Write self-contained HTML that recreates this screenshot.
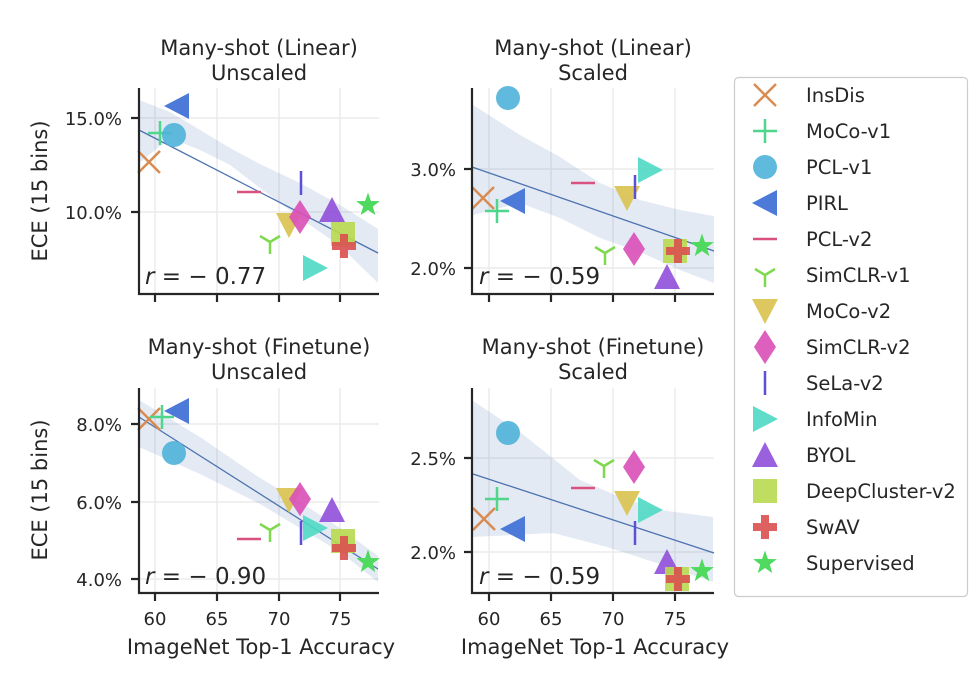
<!DOCTYPE html>
<html><head><meta charset="utf-8"><style>
body{margin:0;background:#fff}
svg{display:block;font-family:"DejaVu Sans","Liberation Sans",sans-serif;fill:#262626}
.t{font-size:21px;text-anchor:middle}
.tk{font-size:18px}
.g{stroke:#ebebeb;stroke-width:1.5}
.sp{stroke:#262626;stroke-width:2.2;fill:none}
.band{fill:#4c72b0;fill-opacity:0.15;stroke:none}
.rl{stroke:#4c72b0;stroke-width:1.3}
.r{font-size:23px}
.lg{font-size:19.5px}
</style></head><body>
<svg id="s" width="980" height="682" viewBox="0 0 980 682" xmlns="http://www.w3.org/2000/svg">
<rect x="734.5" y="77.5" width="233" height="519" rx="4" fill="#fff" stroke="#cccccc" stroke-width="1.2"/>
<g class="g">
<line x1="155" y1="88" x2="155" y2="294"/><line x1="217" y1="88" x2="217" y2="294"/><line x1="279" y1="88" x2="279" y2="294"/><line x1="340" y1="88" x2="340" y2="294"/>
<line x1="139" y1="118" x2="379" y2="118"/><line x1="139" y1="212" x2="379" y2="212"/>
<line x1="489" y1="88" x2="489" y2="294"/><line x1="551" y1="88" x2="551" y2="294"/><line x1="613" y1="88" x2="613" y2="294"/><line x1="675" y1="88" x2="675" y2="294"/>
<line x1="472" y1="169" x2="714" y2="169"/><line x1="472" y1="268" x2="714" y2="268"/>
<line x1="155" y1="388" x2="155" y2="593"/><line x1="217" y1="388" x2="217" y2="593"/><line x1="279" y1="388" x2="279" y2="593"/><line x1="340" y1="388" x2="340" y2="593"/>
<line x1="139" y1="424" x2="379" y2="424"/><line x1="139" y1="502" x2="379" y2="502"/><line x1="139" y1="579" x2="379" y2="579"/>
<line x1="489" y1="388" x2="489" y2="593"/><line x1="551" y1="388" x2="551" y2="593"/><line x1="613" y1="388" x2="613" y2="593"/><line x1="675" y1="388" x2="675" y2="593"/>
<line x1="472" y1="458" x2="714" y2="458"/><line x1="472" y1="552" x2="714" y2="552"/>
</g>
<polygon class="band" points="139,100 170,112 200,130 230,148 260,164 300,183 340,205 378,229 378,283 340,246 300,218 260,188 230,165 200,150 170,138 139,163"/>
<polygon class="band" points="473,105 520,135 560,157 600,183 640,200 680,210 714,216 714,283 680,270 640,252 600,238 560,218 520,203 473,215"/>
<polygon class="band" points="139,400 200,437 260,478 300,502 340,528 378,556 378,582 340,552 300,528 260,504 200,474 139,447"/>
<polygon class="band" points="473,401 520,432 580,480 620,497 660,510 713,517 713,582 660,564 607,547 553,533 473,537"/>
<line class="rl" x1="139" y1="130" x2="378" y2="253"/>
<line class="rl" x1="472" y1="167" x2="714" y2="251"/>
<line class="rl" x1="139" y1="417" x2="378" y2="569"/>
<line class="rl" x1="473" y1="474" x2="714" y2="553"/>
<g id="mk"></g>
<g class="sp">
<path d="M139 88V294H379"/><path d="M472 88V294H714"/><path d="M139 388V593H379"/><path d="M472 388V593H714"/>
<path d="M155 294v8M217 294v8M279 294v8M340 294v8M489 294v8M551 294v8M613 294v8M675 294v8"/>
<path d="M155 593v8M217 593v8M279 593v8M340 593v8M489 593v8M551 593v8M613 593v8M675 593v8"/>
<path d="M131 118h8M131 212h8M464 169h8M464 268h8M131 424h8M131 502h8M131 579h8M464 458h8M464 552h8"/>
</g>
<text class="t" x="259" y="55">Many-shot (Linear)</text><text class="t" x="259" y="80">Unscaled</text>
<text class="t" x="593" y="55">Many-shot (Linear)</text><text class="t" x="593" y="80">Scaled</text>
<text class="t" x="259" y="354">Many-shot (Finetune)</text><text class="t" x="259" y="379">Unscaled</text>
<text class="t" x="593" y="354">Many-shot (Finetune)</text><text class="t" x="593" y="379">Scaled</text>
<g class="tk" text-anchor="end">
<text x="122" y="125">15.0%</text><text x="122" y="219">10.0%</text>
<text x="456" y="176">3.0%</text><text x="456" y="275">2.0%</text>
<text x="122" y="431">8.0%</text><text x="122" y="509">6.0%</text><text x="122" y="586">4.0%</text>
<text x="456" y="465">2.5%</text><text x="456" y="559">2.0%</text>
</g>
<g class="tk" text-anchor="middle">
<text x="155" y="625">60</text><text x="217" y="625">65</text><text x="279" y="625">70</text><text x="340" y="625">75</text>
<text x="489" y="625">60</text><text x="551" y="625">65</text><text x="613" y="625">70</text><text x="675" y="625">75</text>
</g>
<text class="t" x="261" y="654">ImageNet Top-1 Accuracy</text>
<text class="t" x="595" y="654">ImageNet Top-1 Accuracy</text>
<text class="t" transform="translate(47,191) rotate(-90)">ECE (15 bins)</text>
<text class="t" transform="translate(47,490) rotate(-90)">ECE (15 bins)</text>
<text class="r" x="145" y="284" xml:space="preserve"><tspan font-style="italic">r</tspan> = − 0.77</text>
<text class="r" x="479" y="284" xml:space="preserve"><tspan font-style="italic">r</tspan> = − 0.59</text>
<text class="r" x="145" y="584" xml:space="preserve"><tspan font-style="italic">r</tspan> = − 0.90</text>
<text class="r" x="479" y="584" xml:space="preserve"><tspan font-style="italic">r</tspan> = − 0.59</text>
<g class="lg">
<text x="806" y="102">InsDis</text><text x="806" y="138">MoCo-v1</text><text x="806" y="174">PCL-v1</text><text x="806" y="210">PIRL</text>
<text x="806" y="246">PCL-v2</text><text x="806" y="282">SimCLR-v1</text><text x="806" y="318">MoCo-v2</text><text x="806" y="354">SimCLR-v2</text>
<text x="806" y="390">SeLa-v2</text><text x="806" y="426">InfoMin</text><text x="806" y="462">BYOL</text><text x="806" y="498">DeepCluster-v2</text>
<text x="806" y="534">SwAV</text><text x="806" y="570">Supervised</text>
</g>
</svg>
<script>
var C=['#d98c51','#4fd68a','#4fb3d9','#4d7ad9','#d9527f','#7ed94f','#d9c24f','#d94fb8','#5e4fd9','#4fd9c4','#8f4fd9','#b8d94f','#d9504f','#4fd95e'];
function shape(i,x,y){
 var c=C[i],s='';
 switch(i){
 case 0:s='<path d="M'+(x-11)+' '+(y-11)+'L'+(x+11)+' '+(y+11)+'M'+(x-11)+' '+(y+11)+'L'+(x+11)+' '+(y-11)+'" stroke="'+c+'" stroke-width="2.5"/>';break;
 case 1:s='<path d="M'+(x-12)+' '+y+'H'+(x+12)+'M'+x+' '+(y-12)+'V'+(y+12)+'" stroke="'+c+'" stroke-width="2.5"/>';break;
 case 2:s='<circle cx="'+x+'" cy="'+y+'" r="12" fill="'+c+'" fill-opacity="0.9"/>';break;
 case 3:s='<polygon points="'+(x-13)+','+y+' '+(x+12)+','+(y-13)+' '+(x+12)+','+(y+13)+'" fill="'+c+'"/>';break;
 case 4:s='<path d="M'+(x-12)+' '+y+'H'+(x+12)+'" stroke="'+c+'" stroke-width="2.5"/>';break;
 case 5:s='<path d="M'+x+' '+y+'V'+(y+12)+'M'+x+' '+y+'L'+(x-10)+' '+(y-6)+'M'+x+' '+y+'L'+(x+10)+' '+(y-6)+'" stroke="'+c+'" stroke-width="2.5"/>';break;
 case 6:s='<polygon points="'+x+','+(y+13)+' '+(x-13)+','+(y-12)+' '+(x+13)+','+(y-12)+'" fill="'+c+'" fill-opacity="0.9"/>';break;
 case 7:s='<polygon points="'+x+','+(y-17)+' '+(x+11)+','+y+' '+x+','+(y+17)+' '+(x-11)+','+y+'" fill="'+c+'" fill-opacity="0.9"/>';break;
 case 8:s='<path d="M'+x+' '+(y-12)+'V'+(y+12)+'" stroke="'+c+'" stroke-width="2.5"/>';break;
 case 9:s='<polygon points="'+(x+13)+','+y+' '+(x-12)+','+(y-13)+' '+(x-12)+','+(y+13)+'" fill="'+c+'" fill-opacity="0.9"/>';break;
 case 10:s='<polygon points="'+x+','+(y-13)+' '+(x-13)+','+(y+12)+' '+(x+13)+','+(y+12)+'" fill="'+c+'" fill-opacity="0.9"/>';break;
 case 11:s='<rect x="'+(x-12)+'" y="'+(y-12)+'" width="24" height="24" fill="'+c+'" fill-opacity="0.9"/>';break;
 case 12:s='<path d="M'+(x-4)+' '+(y-12)+'h8v8h8v8h-8v8h-8v-8h-8v-8h8z" fill="'+c+'" fill-opacity="0.9"/>';break;
 case 13:var p=[];for(var k=0;k<10;k++){var r=k%2?5:12.5,a=-Math.PI/2+k*Math.PI/5;p.push((x+r*Math.cos(a)).toFixed(1)+','+(y+r*Math.sin(a)).toFixed(1));}
  s='<polygon points="'+p.join(' ')+'" fill="'+c+'"/>';break;
 }
 return s;
}
var P=[
[[149,162],[160,133],[174,135],[177,106],[249,192],[270,242],[289,225],[300,217],[301,183],[315,268],[332,210],[343,234],[344,246],[368,205]],
[[483,198],[497,211],[508,98],[513,201],[583,183],[605,253],[627,198],[634,249],[635,187],[650,170],[667,277],[675,251],[678,251],[702,246]],
[[149,419],[162,417],[174,453],[177,411],[249,539],[270,530],[289,500],[300,499],[301,533],[315,528],[332,510],[343,541],[344,548],[368,562]],
[[484,519],[497,499],[508,433],[513,529],[583,488],[604,466],[627,503],[634,467],[635,533],[650,510],[667,562],[677,579],[678,579],[702,571]]];
var h='';
P.forEach(function(pp){pp.forEach(function(q,i){h+=shape(i,q[0],q[1]);});});
for(var i=0;i<14;i++)h+=shape(i,765,95+36*i);
document.getElementById('mk').innerHTML=h;
</script>
</body></html>
